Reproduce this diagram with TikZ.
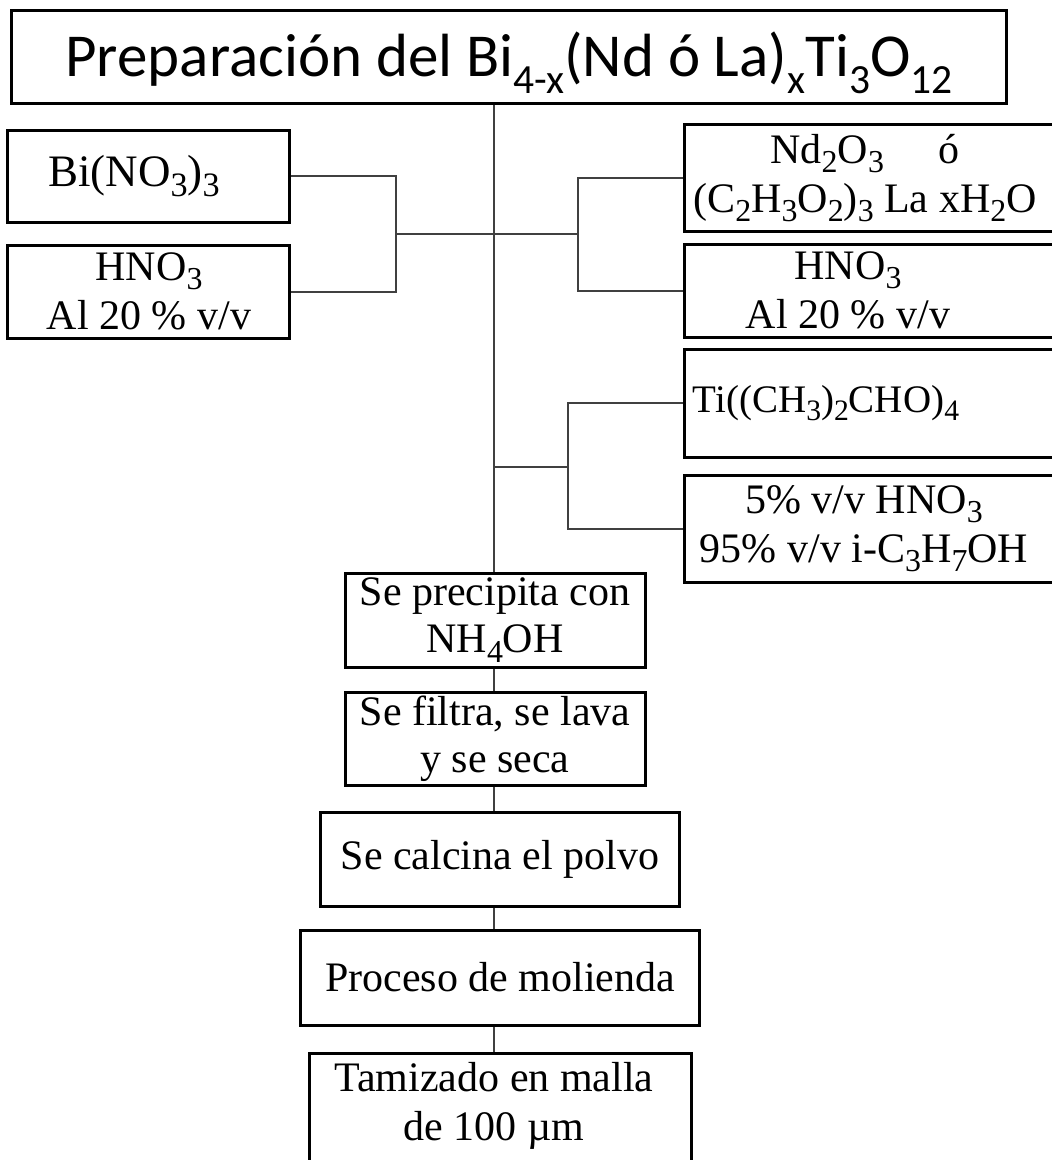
\documentclass[tikz,border=0pt]{standalone}
\usepackage{fontspec}
\setmainfont{Liberation Serif}
\newfontfamily\titlefont{Carlito}
\newcommand{\sbs}[1]{\raisebox{-0.28em}{\scalebox{0.68}{#1}}}
\newcommand{\sbb}[1]{\raisebox{-0.22em}{\scalebox{0.76}{#1}}}
\begin{document}
\begin{tikzpicture}[x=1pt,y=-1pt,
  box/.style={draw=black, line width=3pt, inner sep=0pt, align=center},
  txt/.style={inner sep=0pt, align=center, font=\fontsize{42}{49}\selectfont},
  conn/.style={draw=black!75, line width=2pt}]
\useasboundingbox (0,0) rectangle (1052,1160);
\begin{scope}
\clip (0,0) rectangle (1052,1160);
% title
\node[box, minimum width=995, minimum height=93] (T) at (509,56.5) {};
\node[inner sep=0pt, font=\titlefont\fontsize{61}{64}\selectfont] (Tt) at (509,63)
  {Preparación del Bi\sbs{4-x}(Nd ó La)\sbs{x}Ti\sbs{3}O\sbs{12}};
% left boxes
\node[box, minimum width=282, minimum height=92] (L1) at (148,176) {};
\node[txt, font=\fontsize{45}{48}\selectfont] (L1t) at (134,176) {Bi(NO\sbb{3})\sbb{3}};
\node[box, minimum width=282, minimum height=93] (L2) at (148,291.5) {};
\node[txt] (L2t) at (149,291.5) {HNO\sbb{3}\\Al 20 \% v/v};
% right boxes
\node[box, minimum width=420, minimum height=107, anchor=west] (R1) at (683,178) {};
\node[txt] (R1t) at (865,178) {Nd\sbb{2}O\sbb{3}\hspace{1.3em}ó\\(C\sbb{2}H\sbb{3}O\sbb{2})\sbb{3} La xH\sbb{2}O};
\node[box, minimum width=420, minimum height=93, anchor=west] (R2) at (683,290.5) {};
\node[txt] (R2t) at (848,290.5) {HNO\sbb{3}\\Al 20 \% v/v};
\node[box, minimum width=420, minimum height=108, anchor=west] (R3) at (683,403) {};
\node[txt, font=\fontsize{39}{44}\selectfont] (R3t) at (826,403) {Ti((CH\sbb{3})\sbb{2}CHO)\sbb{4}};
\node[box, minimum width=420, minimum height=107, anchor=west] (R4) at (683,528.5) {};
\node[txt] (R4t) at (864,528.5) {5\% v/v HNO\sbb{3}\\95\% v/v i-C\sbb{3}H\sbb{7}OH};
% process chain
\node[box, minimum width=300, minimum height=94, font=\fontsize{42}{47}\selectfont] (P1) at (495,620) {Se precipita con\\NH\sbb{4}OH};
\node[box, minimum width=300, minimum height=93, font=\fontsize{42}{47}\selectfont] (P2) at (495,738.5) {Se filtra, se lava\\y se seca};
\node[box, minimum width=359, minimum height=94, font=\fontsize{42}{47}\selectfont] (P3) at (500,859) {Se calcina el polvo};
\node[box, minimum width=399, minimum height=95, font=\fontsize{42}{47}\selectfont] (P4) at (500,977.5) {Proceso de molienda};
\node[box, minimum width=382, minimum height=120, anchor=north] (P5) at (500,1052) {};
\node[txt] (P5t) at (494,1106) {Tamizado en malla\\de 100 µm};
% connectors
\coordinate (mainx) at (494,0);
\draw[conn] (T.south -| mainx) -- (P1.north -| mainx);
\coordinate (lb) at (396,234);
\coordinate (rb) at (578,234);
\draw[conn] (L1.east) -| (lb) |- (L2.east);
\draw[conn] (lb) -- (rb);
\draw[conn] (R1.west) -| (rb) |- (R2.west);
\coordinate (rb2) at (568,467);
\draw[conn] (rb2 -| mainx) -- (rb2);
\draw[conn] (R3.west) -| (rb2) |- (R4.west);
\draw[conn] (P1.south -| mainx) -- (P2.north -| mainx);
\draw[conn] (P2.south -| mainx) -- (P3.north -| mainx);
\draw[conn] (P3.south -| mainx) -- (P4.north -| mainx);
\draw[conn] (P4.south -| mainx) -- (P5.north -| mainx);
\end{scope}
\end{tikzpicture}
\end{document}
